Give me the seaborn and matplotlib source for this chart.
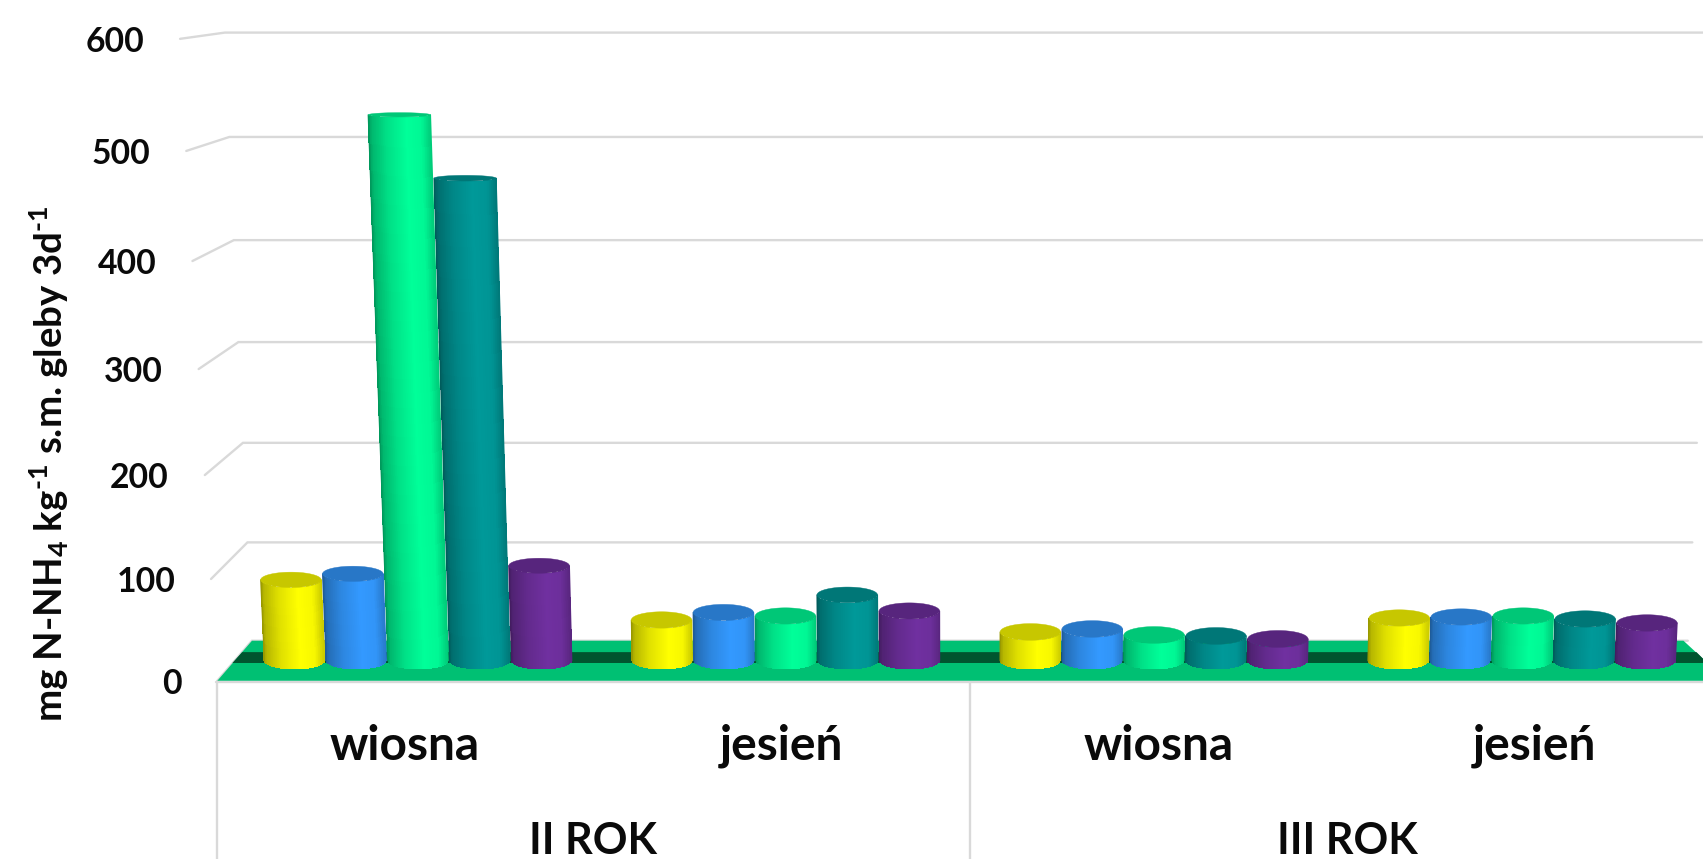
import numpy as np
import pandas as pd
import matplotlib
matplotlib.use("Agg")
import matplotlib.pyplot as plt
import seaborn as sns

# Measured values, mg N-NH4 per kg of soil dry mass over 3 days
seasons = ["wiosna", "jesień", "wiosna", "jesień"]
years = ["II ROK", "III ROK"]
series_names = ["A", "B", "C", "D", "E"]
series_a = [81, 41, 29, 43]
series_b = [87, 48.5, 32, 44]
series_c = [527, 45, 26, 45]
series_d = [468, 66, 25, 42]
series_e = [95, 50, 22, 38]
y_ticks = [0, 100, 200, 300, 400, 500, 600]
y_label = "mg N-NH$_{\\mathit{4}}$ kg$^{\u20101}$ s.m. gleby 3d$^{\u20101}$"

colors = ["#FFFF00", "#3399FF", "#00FF99", "#009999", "#7030A0"]

W, H = 1568, 791      # layout units for the room around the bars
BASE_Y = 608.5        # screen row of value zero in the plane of the bars
CENTER_X = 893        # vanishing column of the perspective
GROUP_STEP = 338.7
LINE = "#D9D9D9"
INK = "#0A0A0A"

sns.set_theme(style="white")
plt.rcParams["font.family"] = ["Lato", "DejaVu Sans"]
plt.rcParams["font.weight"] = "bold"
plt.rcParams["mathtext.fontset"] = "custom"
plt.rcParams["mathtext.rm"] = "Lato:bold"
plt.rcParams["mathtext.it"] = "Lato:italic:bold"
plt.rcParams["mathtext.bf"] = "Lato:bold"
plt.rcParams["mathtext.default"] = "rm"


def rise(v, a, b):
    """Height on screen of value v for a plane with the given perspective terms."""
    return a * np.asarray(v, dtype=float) + b * np.asarray(v, dtype=float) ** 2


MID = (0.9145, 7.5e-5)
FRONT = (0.929, 9.4e-5)
BACK = (0.90, 5.55e-5)


def to_screen(v):
    return rise(v, *MID)


def from_screen(s):
    a, b = MID
    return (-a + np.sqrt(a * a + 4 * b * np.asarray(s, dtype=float))) / (2 * b)


fig = plt.figure(figsize=(17.03, 8.59), dpi=100)

# Room: floor, walls, tick labels and category labels
room = fig.add_axes([0, 0, 1, 1], zorder=0)
room.set_xlim(0, W)
room.set_ylim(H, 0)
room.axis("off")

for tick in y_ticks:
    fy = 627 - rise(tick, *FRONT)
    by = 590 - rise(tick, *BACK)
    fx = 200 - tick * 0.057
    bx = 232 - tick * 0.0417
    rx = 1554 + tick * 0.0417
    room.plot([fx, bx, rx], [fy, by, by], color=LINE, lw=1.7, zorder=1,
              solid_joinstyle="miter")
    room.text(fx - 33, fy + 3, str(tick), ha="right", va="center",
              fontsize=24.3, color=INK)

room.fill([200, 232, 1550, 1590], [627, 590, 590, 627], color="#00C073", lw=0, zorder=2)
room.fill([223, 214, 1572, 1562], [600.5, 610.5, 610.5, 600.5], color="#00552F",
          lw=0, zorder=3)
room.plot([199, 1590], [628, 628], color=LINE, lw=1.7, zorder=2)
for x in (199.5, 893):
    room.plot([x, x], [628, H], color=LINE, lw=1.7, zorder=1)

for i, label in enumerate(seasons):
    room.text(373 + 346.7 * i, 687, label, ha="center", va="center", fontsize=34.5,
              color=INK)
for cx, label in zip((546, 1241), years):
    room.text(cx, 774, label, ha="center", va="center", fontsize=31, color=INK)
room.text(45, 427, y_label, rotation=90, ha="center", va="center", fontsize=27.6,
          color=INK)

# Bars in the plane halfway between the front and back of the floor
ax = fig.add_axes([0, 0, 1, 1], zorder=1)
ax.patch.set_visible(False)

group_positions = [0, 1, 2, 3]
frames = [
    pd.DataFrame({"okres": group_positions, "seria": name, "wartosc": values})
    for name, values in zip(series_names,
                            [series_a, series_b, series_c, series_d, series_e])
]
data = pd.concat(frames, ignore_index=True)
sns.barplot(data=data, x="okres", y="wartosc", hue="seria", hue_order=series_names,
            palette=colors, saturation=1, width=0.84, gap=0, errorbar=None,
            legend=False, native_scale=True, ax=ax)

ax.set_yscale("function", functions=(
    lambda v: rise(v, *MID),
    lambda s: from_screen(np.maximum(s, -2000)),
))
x0 = (CENTER_X - 1.5 * GROUP_STEP)
ax.set_xlim(-x0 / GROUP_STEP, (W - x0) / GROUP_STEP)
ax.set_ylim(from_screen(BASE_Y - H), from_screen(BASE_Y))
ax.axis("off")

u = np.linspace(-1, 1, 91)
uc = 0.5 * (u[:-1] + u[1:])
# Light falls from the right of centre, the left flank stays darkest
shade = np.interp((uc + 1) / 2, [0, 0.06, 0.3, 0.62, 0.85, 1], [0.60, 0.72, 0.88, 1.0, 0.97, 0.80])


def spread(x, v):
    return 1.5 + (x - 1.5) * (1 + 6.45e-5 * v)


def tilt(v):
    """Half height of the ellipse seen at value v; flatter higher up."""
    return np.maximum(8.0 - 0.0115 * v, 2.0)


bars = sorted(ax.patches, key=lambda p: p.get_x())
for order, patch in enumerate(bars):
    value = patch.get_height()
    width = patch.get_width()
    center = patch.get_x() + width / 2
    rgb = np.array(patch.get_facecolor()[:3])
    patch.set_visible(False)
    half = width / 2 * 0.975

    xs = np.vstack([spread(center + u * half, 0), spread(center + u * half, value)])
    arc = np.sqrt(1 - u ** 2)
    ys = np.vstack([
        from_screen(to_screen(0) - tilt(0) * arc),
        from_screen(to_screen(value) - tilt(value) * arc),
    ])
    face = np.clip(rgb[None, None, :] * shade[None, :, None], 0, 1)
    ax.pcolormesh(xs, ys, face, shading="flat", antialiased=False, zorder=2 + order * 0.01)

    # Smooth flanks over the stepped edges of the mesh
    for side, k in ((xs[:, 0], 0.60), (xs[:, -1], 0.80)):
        ax.plot(side, [0, value], color=rgb * k, lw=0.8, zorder=2 + order * 0.01)

    # Top cap
    theta = np.linspace(0, 2 * np.pi, 121)
    cap_x = spread(center + np.cos(theta) * half, value)
    cap_y = from_screen(to_screen(value) + tilt(value) * np.sin(theta))
    ax.fill(cap_x, cap_y, color=rgb * 0.78, lw=0.3, zorder=2 + order * 0.01 + 0.001)

fig.savefig("out.png", dpi=100)
